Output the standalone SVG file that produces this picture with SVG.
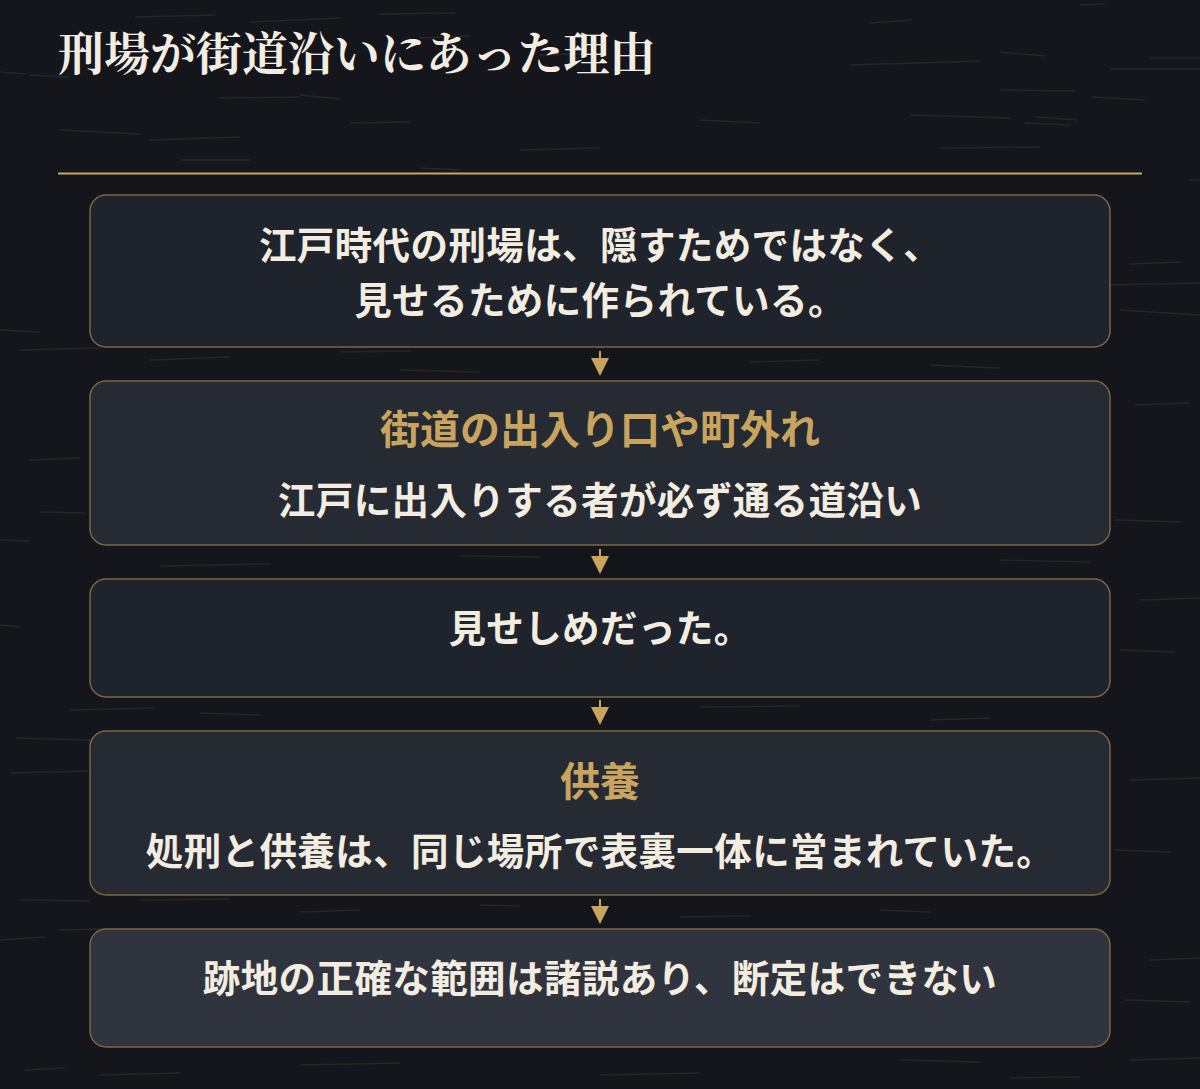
<svg xmlns="http://www.w3.org/2000/svg" width="1200" height="1089" viewBox="0 0 1200 1089">
<defs>
<style>
.bg{fill:#15161b}
.scr{fill:none;stroke:#9a7f5a;stroke-opacity:0.15;stroke-width:1.3;stroke-linecap:round}
.box{stroke:#7d6640;stroke-width:1.5}
.plain{fill:#1f232b}
.head{fill:#262a33}
.note{fill:#30343f}
.t{font-family:"Noto Sans CJK JP","Noto Sans",sans-serif;font-weight:700;font-size:37.5px;letter-spacing:0.4px;fill:#f3ece1;text-anchor:middle}
.h{font-family:"Noto Sans CJK JP","Noto Sans",sans-serif;font-weight:700;font-size:40px;fill:#c9a45f;text-anchor:middle}
.title{font-family:"Noto Serif CJK JP","Noto Sans CJK JP",serif;font-weight:700;font-size:46px;fill:#f3ece1}
.stem{stroke:#c9a45f;stroke-width:2}
.tip{fill:#c9a45f}
</style>
</defs>
<rect class="bg" x="0" y="0" width="1200" height="1089"/>
<path class="scr" d="M135 17L215 15M250 22L340 18M380 14L455 13M420 38L470 36M540 55L600 53M870 23L912 20M850 65L980 61M1000 52L1045 56M1080 5L1105 4M1150 58L1200 58M1110 69L1200 69M1000 90L1075 91M910 115L1011 118M1092 97L1145 100M1036 117L1078 120M940 148L1040 147M1025 123L1070 125M30 75L70 77M0 72L25 74M220 98L300 97M150 140L240 137M60 130L140 134M350 123L410 122M300 95L340 99M700 120L760 123M520 150L600 148M180 160L250 160M420 168L460 170M1190 180L1200 180M0 330L40 332M20 350L100 348M40 512L85 513M0 540L30 541M70 710L155 708M16 738L90 740M10 773L88 771M0 625L20 627M20 900L90 901M60 930L100 929M0 940L45 937M25 1070L65 1068M100 1075L180 1073M30 460L80 458M1130 264L1180 262M1110 285L1200 283M1120 310L1200 315M1135 405L1190 403M1115 520L1180 522M1140 600L1200 598M1120 650L1175 652M1130 780L1200 778M1115 850L1170 852M1150 960L1200 958M1125 1000L1190 1002M1130 1060L1200 1058M150 360L230 357M340 352L410 351M400 370L480 372M750 362L820 360M930 365L1000 368M160 566L270 564M460 556L540 557M1000 560L1090 562M200 713L260 715M700 707L800 706M930 720L990 718M140 900L230 899M300 912L360 910M480 905L520 906M680 917L750 916M880 910L930 912M300 1065L400 1063M600 1075L700 1073M900 1060L980 1062M1010 1078L1080 1077"/>
<g id="header">
<text class="title" x="58" y="70">刑場が街道沿いにあった理由</text>
<line x1="58" y1="173.5" x2="1142" y2="173.5" stroke="#c9a45f" stroke-width="2"/>
</g>
<g id="connectors">
<line class="stem" x1="600" y1="351" x2="600" y2="359"/><polygon class="tip" points="591,358 609,358 600,376"/>
<line class="stem" x1="600" y1="549" x2="600" y2="557"/><polygon class="tip" points="591,556 609,556 600,574"/>
<line class="stem" x1="600" y1="700" x2="600" y2="708"/><polygon class="tip" points="591,707 609,707 600,725"/>
<line class="stem" x1="600" y1="899" x2="600" y2="907"/><polygon class="tip" points="591,906 609,906 600,924"/>
</g>
<g id="node1">
<rect class="box plain" x="90" y="195" width="1020" height="152" rx="16"/>
<text class="t" x="600" y="259">江戸時代の刑場は、隠すためではなく、</text>
<text class="t" x="600" y="314">見せるために作られている。</text>
</g>
<g id="node2">
<rect class="box head" x="90" y="381" width="1020" height="164" rx="16"/>
<text class="h" x="600" y="444">街道の出入り口や町外れ</text>
<text class="t" x="600" y="514">江戸に出入りする者が必ず通る道沿い</text>
</g>
<g id="node3">
<rect class="box plain" x="90" y="579" width="1020" height="118" rx="16"/>
<text class="t" x="600" y="642">見せしめだった。</text>
</g>
<g id="node4">
<rect class="box head" x="90" y="731" width="1020" height="164" rx="16"/>
<text class="h" x="600" y="796">供養</text>
<text class="t" x="600" y="865">処刑と供養は、同じ場所で表裏一体に営まれていた。</text>
</g>
<g id="node5">
<rect class="box note" x="90" y="929" width="1020" height="118" rx="16"/>
<text class="t" x="600" y="992">跡地の正確な範囲は諸説あり、断定はできない</text>
</g>
</svg>
